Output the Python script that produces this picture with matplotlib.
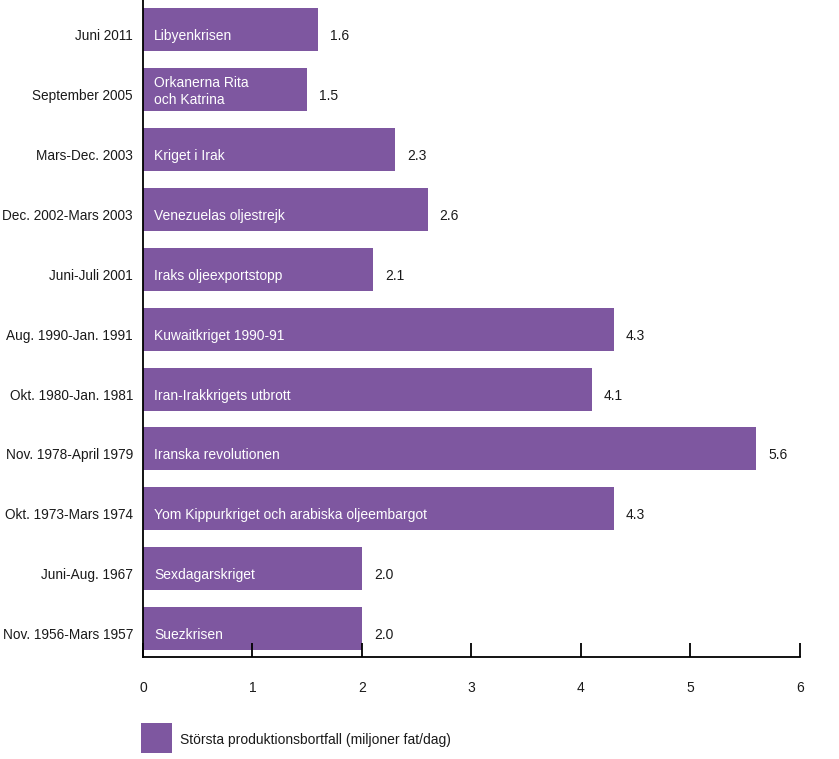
import matplotlib
matplotlib.use("Agg")
import matplotlib.pyplot as plt
from matplotlib.patches import Rectangle
from matplotlib.transforms import ScaledTranslation

periods = ["Nov. 1956-Mars 1957", "Juni-Aug. 1967", "Okt. 1973-Mars 1974",
           "Nov. 1978-April 1979", "Okt. 1980-Jan. 1981", "Aug. 1990-Jan. 1991",
           "Juni-Juli 2001", "Dec. 2002-Mars 2003", "Mars-Dec. 2003",
           "September 2005", "Juni 2011"]
events = ["Suezkrisen", "Sexdagarskriget", "Yom Kippurkriget och arabiska oljeembargot",
          "Iranska revolutionen", "Iran-Irakkrigets utbrott", "Kuwaitkriget 1990-91",
          "Iraks oljeexportstopp", "Venezuelas oljestrejk", "Kriget i Irak",
          "Orkanerna Rita\noch Katrina", "Libyenkrisen"]
values = [2.0, 2.0, 4.3, 5.6, 4.1, 4.3, 2.1, 2.6, 2.3, 1.5, 1.6]
legend_label = "Största produktionsbortfall (miljoner fat/dag)"

color = "#7E57A0"
txtcol = "#1a1a1a"
plt.rcParams["font.family"] = ["Liberation Sans", "DejaVu Sans"]

fig = plt.figure(figsize=(8.39, 7.59), dpi=100)
ax = fig.add_axes([143/839, (759-657)/759, (800-143)/839, 657/759])

def down(px):
    return ScaledTranslation(0, -px/100, fig.dpi_scale_trans)

pos = list(range(len(values)))
ax.barh(pos, values, height=0.72, color=color)
for p, v, e, per in zip(pos, values, events, periods):
    s = 2.0 if "\n" in e else 6.5
    ax.text(0.1, p, e, color="white", va="center", ha="left", fontsize=10,
            linespacing=1.3, transform=ax.transData + down(s))
    ax.text(v + 0.11, p, f"{v:.1f}", color=txtcol, va="center", ha="left",
            fontsize=10, transform=ax.transData + down(6.5))
    ax.annotate(per, xy=(0, p), xycoords=ax.get_yaxis_transform(),
                xytext=(-7.2, -4.7), textcoords="offset points",
                ha="right", va="center", fontsize=9.8, color=txtcol)

ax.set_xlim(0, 6)
ax.set_ylim(-0.476, 10.5)
ax.set_xticks(range(7))
ax.set_yticks(pos)
ax.set_yticklabels([])
ax.tick_params(axis="x", direction="in", length=10, width=1.3, pad=17,
               labelsize=10, labelcolor=txtcol)
ax.tick_params(axis="y", length=0)
for s in ["top", "right"]:
    ax.spines[s].set_visible(False)
ax.spines["left"].set_linewidth(1.3)
ax.spines["bottom"].set_linewidth(1.3)

fig.add_artist(Rectangle((141/839, 1 - 753/759), 31/839, 30/759,
                         transform=fig.transFigure, facecolor=color, edgecolor="none"))
fig.text(180/839, 1 - 740/759, legend_label, va="center", ha="left",
         fontsize=10, color=txtcol)

fig.savefig("out.png", dpi=100)
